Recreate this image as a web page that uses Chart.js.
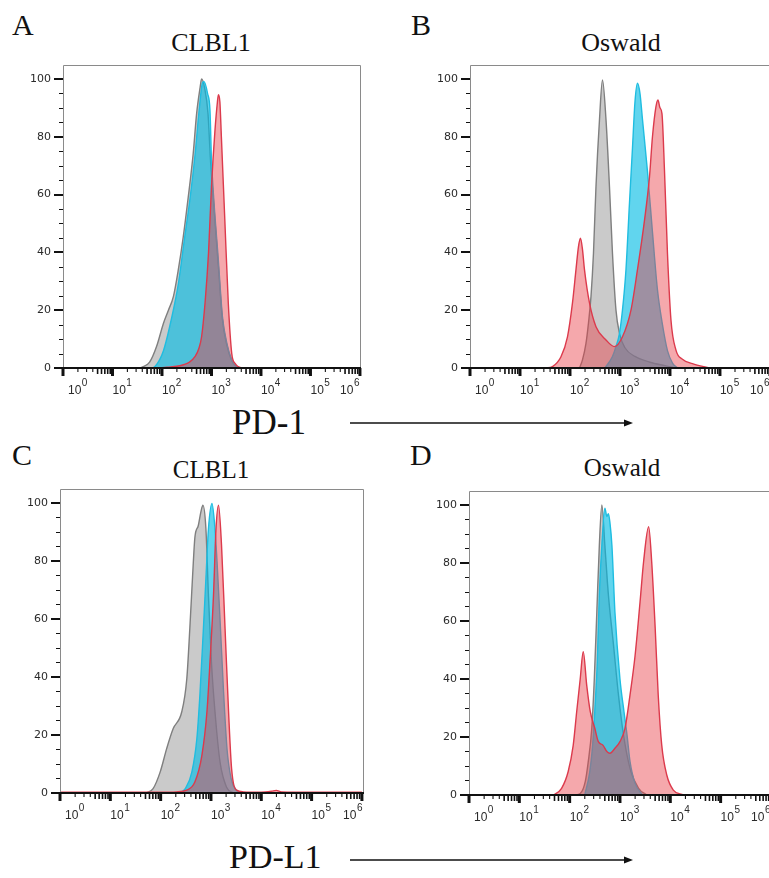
<!DOCTYPE html>
<html><head><meta charset="utf-8">
<script src="https://cdn.jsdelivr.net/npm/chart.js@4.4.0/dist/chart.umd.min.js"></script>
<style>
html,body{margin:0;padding:0;background:#fff;width:769px;height:878px;overflow:hidden;position:relative;}
canvas{position:absolute;}
.t{position:absolute;font-family:"Liberation Serif","Times New Roman",serif;color:#111;line-height:1;white-space:nowrap;}
.ttl{text-align:center;width:160px;}
svg{position:absolute;left:0;top:0;}
</style></head><body>
<div class="t" style="left:12px;top:10px;font-size:30px">A</div>
<div class="t" style="left:411px;top:10px;font-size:30px">B</div>
<div class="t" style="left:12px;top:440px;font-size:30px">C</div>
<div class="t" style="left:410px;top:440px;font-size:30px">D</div>
<div class="t ttl" style="left:131px;top:30px;font-size:26px">CLBL1</div>
<div class="t ttl" style="left:541px;top:30px;font-size:26px">Oswald</div>
<div class="t ttl" style="left:131px;top:457px;font-size:25px">CLBL1</div>
<div class="t ttl" style="left:542px;top:455px;font-size:25px">Oswald</div>
<div class="t" style="left:232px;top:405px;font-size:35px">PD-1</div>
<div class="t" style="left:229px;top:840px;font-size:34px">PD-L1</div>
<svg width="769" height="878">
  <line x1="350" y1="423" x2="626" y2="423" stroke="#111" stroke-width="1.4"/>
  <polygon points="633,423 624,419.5 624,426.5" fill="#111"/>
  <line x1="350" y1="860" x2="626" y2="860" stroke="#111" stroke-width="1.4"/>
  <polygon points="633,860 624,856.5 624,863.5" fill="#111"/>
</svg>
<canvas id="cA" width="380" height="345" style="left:0;top:55px"></canvas>
<canvas id="cB" width="386" height="345" style="left:400px;top:55px"></canvas>
<canvas id="cC" width="380" height="345" style="left:0;top:480px"></canvas>
<canvas id="cD" width="386" height="350" style="left:400px;top:480px"></canvas>
<script>
// ---- axis definitions ----
const decadeExponents = [0, 1, 2, 3, 4, 5, 6];   // x tick labels 10^0 ... 10^6
const yMajorTicks = [0, 20, 40, 60, 80, 100];
const yMinorStep = 5;

// ---- data: x positions as log10(fluorescence), y = % of max ----
// Panel A  PD-1, CLBL1
const A_grayLog = [1.55, 1.62, 1.75, 1.89, 2.03, 2.13, 2.23, 2.33, 2.43, 2.53, 2.63, 2.70, 2.77, 2.80, 2.86, 2.93, 2.98, 3.04, 3.14, 3.22, 3.31, 3.41, 3.50, 3.60];
const A_grayVal = [0, 0.5, 2, 7.4, 15.5, 20, 24.7, 34, 45.4, 59, 74, 88, 97, 100, 97, 88, 72, 58, 35, 17, 8, 2.5, 0.5, 0];
const A_blueLog = [1.80, 1.86, 2.03, 2.20, 2.33, 2.46, 2.57, 2.67, 2.75, 2.82, 2.85, 2.92, 2.97, 3.00, 3.04, 3.14, 3.22, 3.31, 3.41, 3.50, 3.60];
const A_blueVal = [0, 0.5, 6, 17.7, 29, 45.4, 59, 74, 89, 98.7, 99, 95, 89, 72, 60, 37, 18, 8.6, 2.8, 0.5, 0];
const A_redLog = [1.95, 2.10, 2.30, 2.45, 2.55, 2.67, 2.75, 2.80, 2.87, 2.94, 3.00, 3.07, 3.12, 3.14, 3.17, 3.20, 3.27, 3.34, 3.41, 3.48, 3.54, 3.62];
const A_redVal = [0, 0.3, 0.6, 1.2, 2, 4, 7, 10.8, 22.5, 39.8, 62.7, 82, 92, 94.5, 92, 80, 51, 22.4, 5, 1.5, 0.5, 0];

// Panel B  PD-1, Oswald
const B_grayLog = [2.19, 2.25, 2.32, 2.37, 2.42, 2.47, 2.52, 2.59, 2.65, 2.72, 2.79, 2.85, 2.92, 2.99, 3.10, 3.30, 3.60, 3.90, 4.12];
const B_grayVal = [0, 2.8, 8.5, 15.5, 24.7, 39.7, 62.7, 85.8, 99.6, 86, 62.7, 39.7, 20, 12, 7, 4, 2, 0.8, 0];
const B_blueLog = [2.70, 2.85, 2.92, 2.99, 3.05, 3.12, 3.19, 3.25, 3.30, 3.35, 3.40, 3.45, 3.55, 3.65, 3.75, 3.85, 3.95, 4.05, 4.15];
const B_blueVal = [0, 4, 7.4, 12, 20, 34, 57, 76, 92, 98.5, 95, 86, 68, 47, 27, 15, 6, 1.7, 0];
const B_redLog = [1.52, 1.65, 1.82, 1.95, 2.05, 2.12, 2.17, 2.21, 2.25, 2.29, 2.39, 2.52, 2.72, 2.89, 3.05, 3.22, 3.35, 3.49, 3.59, 3.65, 3.72, 3.76, 3.80, 3.84, 3.89, 3.95, 4.02, 4.12, 4.25, 4.45, 4.79];
const B_redVal = [0, 0.5, 3.9, 10.8, 22.5, 34, 42, 44.9, 41, 34, 22.5, 14.3, 9.7, 7.4, 10.8, 20, 34, 51, 66, 80, 90.4, 92.7, 90, 88, 68.5, 39.7, 16.6, 6.2, 3, 1.5, 0];

// Panel C  PD-L1, CLBL1
const C_grayLog = [1.72, 1.85, 1.99, 2.12, 2.25, 2.42, 2.52, 2.58, 2.65, 2.68, 2.75, 2.80, 2.84, 2.90, 2.95, 3.01, 3.08, 3.18, 3.31, 3.45];
const C_grayVal = [0, 1.5, 7.2, 15.3, 22.2, 28, 39.4, 56.7, 79.7, 88, 92.3, 96.9, 99.2, 91, 68, 45, 28, 10.7, 2, 0];
const C_blueLog = [2.39, 2.49, 2.62, 2.72, 2.78, 2.85, 2.90, 2.95, 3.02, 3.08, 3.12, 3.18, 3.25, 3.32, 3.40, 3.50, 3.60];
const C_blueVal = [0, 1.5, 7.2, 18.8, 33.7, 56.7, 74, 91, 99.8, 91, 80, 60, 35, 15, 5, 1, 0];
const C_redLog = [0, 1.0, 2.0, 2.32, 2.52, 2.68, 2.82, 2.92, 2.98, 3.05, 3.10, 3.15, 3.21, 3.28, 3.35, 3.41, 3.51, 3.64, 4.0, 4.2, 4.3, 4.4, 5.0, 6.0];
const C_redVal = [0.3, 0.3, 0.3, 0.4, 1, 3.8, 13, 28, 45, 68, 91, 99.2, 85.4, 56.7, 28, 8.4, 1, 0.4, 0.3, 0.6, 0.9, 0.4, 0.3, 0.3];

// Panel D  PD-L1, Oswald
const D_grayLog = [2.10, 2.21, 2.31, 2.37, 2.44, 2.49, 2.54, 2.59, 2.64, 2.70, 2.77, 2.87, 2.97, 3.07, 3.20, 3.37, 3.53];
const D_grayVal = [0, 0.5, 4.6, 11.5, 23, 40, 63, 86, 100, 86, 69, 52, 34.5, 20.7, 9.2, 2.3, 0];
const D_blueLog = [2.30, 2.40, 2.46, 2.50, 2.55, 2.59, 2.64, 2.70, 2.74, 2.77, 2.80, 2.84, 2.90, 3.00, 3.08, 3.14, 3.20, 3.30, 3.45];
const D_blueVal = [0, 8, 17.8, 29, 46, 69, 86, 98.9, 96, 97, 94, 86, 63, 40, 28.7, 20.7, 11.5, 4, 0];
const D_redLog = [1.68, 1.84, 1.97, 2.07, 2.14, 2.21, 2.27, 2.34, 2.41, 2.50, 2.57, 2.66, 2.74, 2.80, 2.90, 3.00, 3.10, 3.20, 3.30, 3.40, 3.47, 3.57, 3.63, 3.70, 3.76, 3.83, 3.93, 4.06, 4.26];
const D_redVal = [0, 2.3, 8, 17, 28.7, 40, 49.4, 37.7, 28.7, 23, 18.4, 17.2, 15, 14.4, 16.1, 18.4, 23, 34.5, 48, 66.7, 80.5, 92.5, 80.5, 57.5, 34.5, 17.2, 6.9, 1.7, 0];

// ---- styling ----
const STYLE = {
  gray: { fill: 'rgba(128,128,128,0.42)', line: '#7f7f7f' },
  blue: { fill: 'rgba(0,188,228,0.62)', line: '#1fbde0' },
  red:  { fill: 'rgba(232,62,72,0.45)', line: '#dc3a4c' }
};

function pts(logs, vals) { return logs.map((e, i) => ({ x: Math.pow(10, e), y: vals[i] })); }
function ds(data, s) {
  return { data, borderColor: s.line, backgroundColor: s.fill, borderWidth: 1.4, fill: 'origin',
           pointRadius: 0, cubicInterpolationMode: 'monotone' };
}

const flowAxes = {
  id: 'flowAxes',
  afterDatasetsDraw(chart) {
    const { ctx, chartArea: a } = chart;
    const xs = chart.scales.x, ys = chart.scales.y;
    ctx.save();
    // frame
    ctx.strokeStyle = '#8a8a8a'; ctx.lineWidth = 1;
    const L = Math.round(a.left) + 0.5, T = Math.round(a.top) + 0.5, R = Math.round(a.right) - 0.5;
    ctx.beginPath(); ctx.moveTo(L, a.bottom); ctx.lineTo(L, T); ctx.lineTo(R, T); ctx.lineTo(R, a.bottom); ctx.stroke();
    // y ticks
    ctx.strokeStyle = '#111';
    const yTop = yMajorTicks[yMajorTicks.length - 1];
    for (let v = 0; v <= yTop; v += yMinorStep) {
      const major = yMajorTicks.includes(v);
      const py = Math.round(ys.getPixelForValue(v)) + (major ? 0 : 0.5);
      ctx.lineWidth = major ? 2 : 1;
      ctx.beginPath(); ctx.moveTo(a.left - (major ? 9 : 4), py); ctx.lineTo(a.left, py); ctx.stroke();
    }
    ctx.fillStyle = '#2a2a2a'; ctx.font = '11px "DejaVu Sans", sans-serif';
    ctx.textAlign = 'right'; ctx.textBaseline = 'middle';
    yMajorTicks.forEach(v => ctx.fillText(String(v), a.left - 12, ys.getPixelForValue(v)));
    // x axis line
    ctx.lineWidth = 2;
    ctx.beginPath(); ctx.moveTo(a.left, a.bottom); ctx.lineTo(a.right, a.bottom); ctx.stroke();
    // x ticks (log minor ticks)
    decadeExponents.forEach((e, i) => {
      const base = Math.pow(10, e);
      const px = xs.getPixelForValue(base);
      ctx.lineWidth = 3;
      ctx.beginPath(); ctx.moveTo(px, a.bottom); ctx.lineTo(px, a.bottom + 8); ctx.stroke();
      if (i < decadeExponents.length - 1) {
        for (let k = 2; k <= 9; k++) {
          const mx = xs.getPixelForValue(k * base);
          ctx.lineWidth = k >= 5 ? 1.6 : 1.1;
          ctx.beginPath(); ctx.moveTo(mx, a.bottom); ctx.lineTo(mx, a.bottom + (k >= 5 ? 6 : 4)); ctx.stroke();
        }
      }
    });
    // x labels 10^n
    ctx.textAlign = 'left'; ctx.textBaseline = 'alphabetic'; ctx.fillStyle = '#2a2a2a';
    const baseFont = '12px "Liberation Sans", sans-serif', supFont = '10px "Liberation Sans", sans-serif';
    decadeExponents.forEach(e => {
      const px = xs.getPixelForValue(Math.pow(10, e));
      ctx.font = baseFont; const w1 = ctx.measureText('10').width;
      ctx.font = supFont; const w2 = ctx.measureText(String(e)).width;
      let lx = Math.max(px, a.left + 5);
      lx = Math.min(lx, a.right - w1 - w2 - 2);
      ctx.font = baseFont; ctx.fillText('10', lx, a.bottom + 26);
      ctx.font = supFont; ctx.fillText(String(e), lx + w1 + 0.5, a.bottom + 18);
    });
    ctx.restore();
  }
};

function makePanel(id, gray, blue, red, cfg) {
  new Chart(document.getElementById(id), {
    type: 'line',
    data: { datasets: [ds(red, STYLE.red), ds(blue, STYLE.blue), ds(gray, STYLE.gray)] },
    options: {
      responsive: false, animation: false, events: [],
      layout: { padding: { top: cfg.padTop, right: cfg.padRight, left: 0, bottom: 0 } },
      plugins: { legend: { display: false }, tooltip: { enabled: false } },
      scales: {
        x: { type: 'logarithmic', min: 1, max: cfg.xMax,
             ticks: { display: false }, grid: { display: false }, border: { display: false },
             afterFit: s => { s.height = cfg.xH; } },
        y: { type: 'linear', min: 0, max: cfg.yMax,
             ticks: { display: false }, grid: { display: false }, border: { display: false },
             afterFit: s => { s.width = cfg.yW; } }
      }
    },
    plugins: [flowAxes]
  });
}

makePanel('cA', pts(A_grayLog, A_grayVal), pts(A_blueLog, A_blueVal), pts(A_redLog, A_redVal),
  { padTop: 10, padRight: 19, xH: 32, yW: 63, xMax: 1.05e6, yMax: 104.8 });
makePanel('cB', pts(B_grayLog, B_grayVal), pts(B_blueLog, B_blueVal), pts(B_redLog, B_redVal),
  { padTop: 10, padRight: 15, xH: 32, yW: 70, xMax: 1.05e6, yMax: 104.8 });
makePanel('cC', pts(C_grayLog, C_grayVal), pts(C_blueLog, C_blueVal), pts(C_redLog, C_redVal),
  { padTop: 9, padRight: 16, xH: 32, yW: 60, xMax: 1.1e6, yMax: 104.8 });
makePanel('cD', pts(D_grayLog, D_grayVal), pts(D_blueLog, D_blueVal), pts(D_redLog, D_redVal),
  { padTop: 11, padRight: 14, xH: 35, yW: 69, xMax: 1.05e6, yMax: 104.8 });
</script>
</body></html>
